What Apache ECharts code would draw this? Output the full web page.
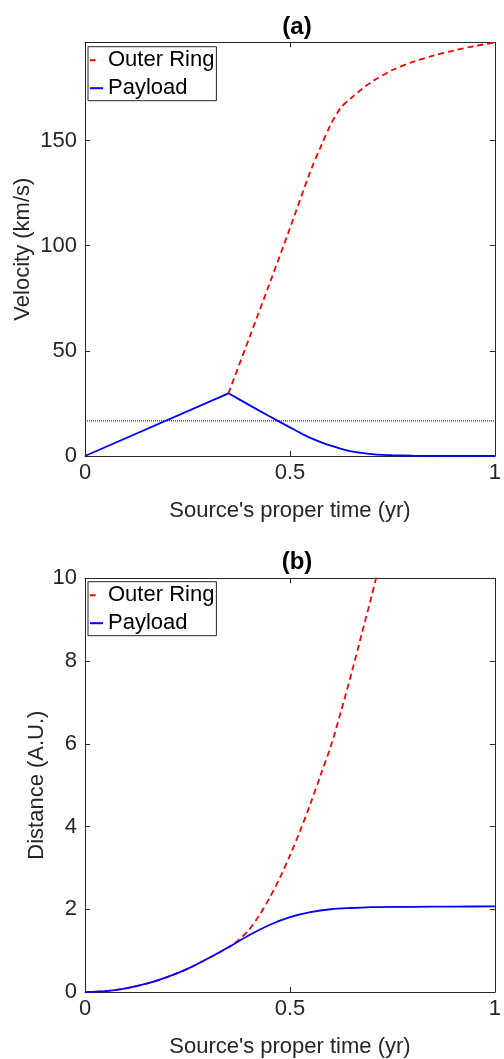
<!DOCTYPE html>
<html>
<head>
<meta charset="utf-8">
<script src="https://cdn.jsdelivr.net/npm/echarts@6/dist/echarts.min.js"></script>
<style>
html,body{margin:0;padding:0;background:#fff;}
#chart{width:504px;height:1059px;}
</style>
</head>
<body>
<div id="chart"></div>
<script>
// ---- data ----
var seriesNames = ['Outer Ring', 'Payload'];
var xTickLabels = ['0', '0.5', '1'];

// (a) velocity, km/s
var ringVelT   = [0.35, 0.40, 0.45, 0.50, 0.55, 0.575, 0.60, 0.625, 0.65, 0.675, 0.70, 0.75, 0.80, 0.85, 0.90, 0.95, 1.00];
var ringVelV   = [29.8, 55.8, 81.8, 108.3, 135.4, 147, 157.8, 165.8, 170.3, 174.4, 178, 183.5, 187.4, 190.4, 192.8, 194.9, 196.6];
var payRiseT   = [0, 0.35];
var payRiseV   = [0, 29.8];
var payFallT   = [0.35, 0.40, 0.45, 0.50, 0.525, 0.55, 0.575, 0.60, 0.625, 0.65, 0.675, 0.70, 0.725, 0.75, 0.80, 0.85, 0.90, 1.00];
var payFallV   = [29.8, 24.3, 18.9, 13.6, 11.0, 8.6, 6.6, 4.9, 3.4, 2.2, 1.45, 0.9, 0.55, 0.35, 0.15, 0.08, 0.05, 0.02];
var escapeT    = [0, 1];
var escapeV    = [16.7, 16.7];

// (b) distance, A.U.
var ringDistT  = [0, 0.05, 0.10, 0.15, 0.20, 0.25, 0.30, 0.35, 0.375, 0.40, 0.425, 0.45, 0.475, 0.50, 0.525, 0.55, 0.575, 0.60, 0.625, 0.65, 0.675, 0.70, 0.725];
var ringDistD  = [0, 0.02, 0.09, 0.20, 0.36, 0.56, 0.81, 1.08, 1.26, 1.50, 1.85, 2.27, 2.75, 3.30, 3.90, 4.55, 5.25, 5.95, 6.80, 7.70, 8.65, 9.60, 10.6];
var payDistT   = [0, 0.05, 0.10, 0.15, 0.20, 0.25, 0.30, 0.35, 0.40, 0.45, 0.50, 0.55, 0.60, 0.65, 0.70, 0.75, 0.80, 0.90, 1.00];
var payDistD   = [0, 0.02, 0.09, 0.20, 0.36, 0.56, 0.81, 1.08, 1.37, 1.62, 1.81, 1.93, 2.00, 2.03, 2.05, 2.06, 2.06, 2.065, 2.07];

function pairs(t, v) { return t.map(function (x, i) { return [x, v[i]]; }); }

var FONT = 'Liberation Sans';
var AX = '#262626';
var RED = '#ff0000', BLUE = '#0000ff';
var LW = 1.8;

function xAxisBottom(grid, name) {
  return {
    type: 'value', gridIndex: grid, position: 'bottom', min: 0, max: 1, interval: 0.5,
    name: name, nameLocation: 'middle', nameGap: 44, nameMoveOverlap: false,
    nameTextStyle: { fontFamily: FONT, fontSize: 22, color: AX },
    axisLine: { show: true, onZero: false, lineStyle: { color: AX, width: 1 } },
    axisTick: { show: true, inside: true, length: 5, lineStyle: { color: AX } },
    axisLabel: { fontFamily: FONT, fontSize: 22, color: AX, margin: 6,
      formatter: function (v) { var i = Math.round(v * 2); return (Math.abs(v * 2 - i) < 1e-9) ? xTickLabels[i] : ''; } },
    splitLine: { show: false }
  };
}
function xAxisTop(grid) {
  return {
    type: 'value', gridIndex: grid, position: 'top', min: 0, max: 1, interval: 0.5,
    axisLine: { show: true, onZero: false, lineStyle: { color: AX, width: 1 } },
    axisTick: { show: true, inside: true, length: 5, lineStyle: { color: AX } },
    axisLabel: { show: false }, splitLine: { show: false }
  };
}
function yAxisLeft(grid, name, max, interval, gap) {
  return {
    type: 'value', gridIndex: grid, position: 'left', min: 0, max: max, interval: interval,
    name: name, nameLocation: 'middle', nameGap: gap, nameMoveOverlap: false,
    nameTextStyle: { fontFamily: FONT, fontSize: 22, color: AX },
    axisLine: { show: true, onZero: false, lineStyle: { color: AX, width: 1 } },
    axisTick: { show: true, inside: true, length: 5, lineStyle: { color: AX } },
    axisLabel: { fontFamily: FONT, fontSize: 22, color: AX, margin: 8,
      formatter: function (v) { var r = v / interval; return Math.abs(r - Math.round(r)) < 1e-9 ? String(Math.round(v)) : ''; } },
    splitLine: { show: false }
  };
}
function yAxisRight(grid, max, interval) {
  return {
    type: 'value', gridIndex: grid, position: 'right', min: 0, max: max, interval: interval,
    axisLine: { show: true, onZero: false, lineStyle: { color: AX, width: 1 } },
    axisTick: { show: true, inside: true, length: 5, lineStyle: { color: AX } },
    axisLabel: { show: false }, splitLine: { show: false }
  };
}
function legendAt(top) {
  return {
    orient: 'vertical', left: 88, top: top,
    data: [
      { name: seriesNames[0], icon: 'path://M0,0h6v2h-6zM13.9,0h0.1v2h-0.1z', itemStyle: { color: RED } },
      { name: seriesNames[1], icon: 'path://M0,0h14v2h-14z', itemStyle: { color: BLUE } }
    ],
    itemWidth: 13, itemHeight: 2, itemGap: 3,
    symbolKeepAspect: false,
    padding: [1, 2, 0, 2],
    borderColor: AX, borderWidth: 1, backgroundColor: '#fff',
    textStyle: { fontFamily: FONT, fontSize: 22, color: '#000', lineHeight: 25 },
    selectedMode: false
  };
}

var option = {
  animation: false,
  backgroundColor: '#fff',
  title: [
    { text: '(a)', left: 292, top: 10, textAlign: 'center',
      textStyle: { fontFamily: FONT, fontSize: 24, fontWeight: 'bold', color: '#000' } },
    { text: '(b)', left: 292, top: 545, textAlign: 'center',
      textStyle: { fontFamily: FONT, fontSize: 24, fontWeight: 'bold', color: '#000' } }
  ],
  grid: [
    { left: 85, right: 5, top: 42.3, height: 413.7 },
    { left: 85, right: 5, top: 578.3, height: 414 }
  ],
  legend: [legendAt(46.7), legendAt(581.7)],
  xAxis: [
    xAxisBottom(0, "Source's proper time (yr)"), xAxisTop(0),
    xAxisBottom(1, "Source's proper time (yr)"), xAxisTop(1)
  ],
  yAxis: [
    yAxisLeft(0, 'Velocity (km/s)', 196.7, 50, 51), yAxisRight(0, 196.7, 50),
    yAxisLeft(1, 'Distance (A.U.)', 10, 2, 37), yAxisRight(1, 10, 2)
  ],
  series: [
    { name: 'escape', type: 'line', xAxisIndex: 0, yAxisIndex: 0, symbol: 'none', silent: true,
      data: pairs(escapeT, escapeV), lineStyle: { color: '#000', width: 1, type: [1, 1] }, z: 1 },
    { name: seriesNames[0], type: 'line', xAxisIndex: 0, yAxisIndex: 0, symbol: 'none',
      smooth: 0.3,
      data: pairs(ringVelT, ringVelV), lineStyle: { color: RED, width: LW, type: [6, 4] }, itemStyle: { color: RED } },
    { name: seriesNames[1], type: 'line', xAxisIndex: 0, yAxisIndex: 0, symbol: 'none',
      data: pairs(payRiseT, payRiseV), lineStyle: { color: BLUE, width: LW }, itemStyle: { color: BLUE } },
    { name: seriesNames[1], type: 'line', xAxisIndex: 0, yAxisIndex: 0, symbol: 'none',
      smooth: 0.3,
      data: pairs(payFallT, payFallV), lineStyle: { color: BLUE, width: LW }, itemStyle: { color: BLUE } },
    { name: seriesNames[0], type: 'line', xAxisIndex: 2, yAxisIndex: 2, symbol: 'none',
      smooth: 0.3,
      data: pairs(ringDistT, ringDistD), lineStyle: { color: RED, width: LW, type: [6, 4] }, itemStyle: { color: RED } },
    { name: seriesNames[1], type: 'line', xAxisIndex: 2, yAxisIndex: 2, symbol: 'none',
      smooth: 0.3,
      data: pairs(payDistT, payDistD), lineStyle: { color: BLUE, width: LW }, itemStyle: { color: BLUE } }
  ]
};

var chart = echarts.init(document.getElementById('chart'), null, { renderer: 'canvas' });
chart.setOption(option);
</script>
</body>
</html>
